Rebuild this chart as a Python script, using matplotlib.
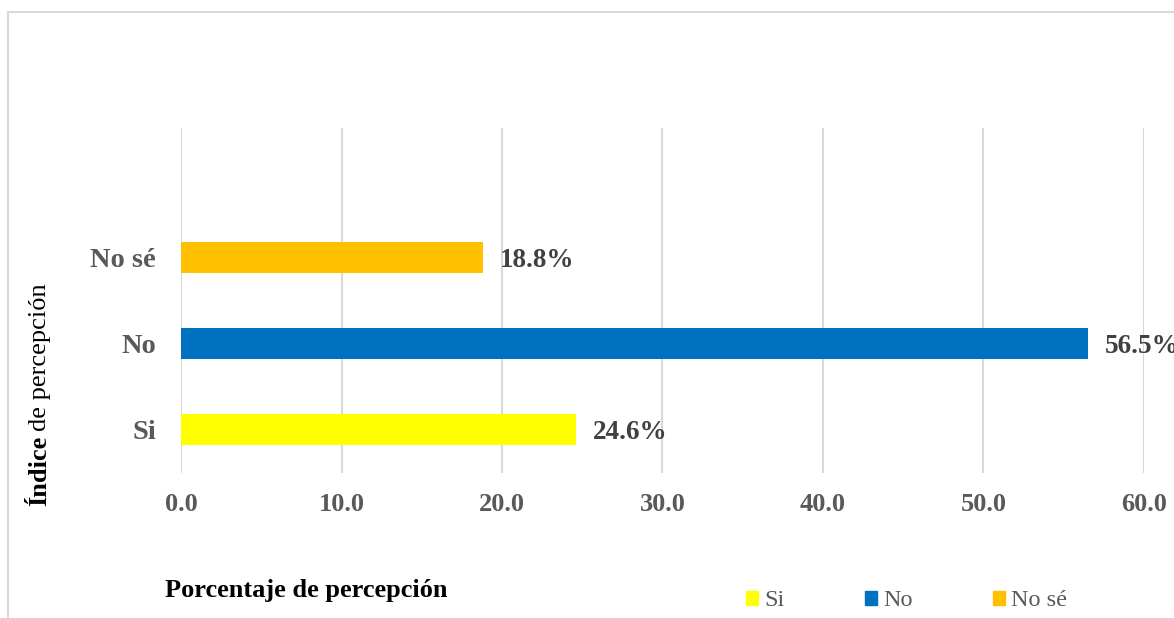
import matplotlib.pyplot as plt
from matplotlib.patches import Patch, Rectangle

CATEGORIES = ["Si", "No", "No sé"]
VALUES = [24.6, 56.5, 18.8]
COLORS = ["#FFFF00", "#0070C0", "#FFC000"]
X_TICKS = [0, 10, 20, 30, 40, 50, 60]

GRAY = "#595959"
GRID = "#D9D9D9"
SERIF = "Liberation Serif"

plt.rcParams["font.family"] = SERIF

fig = plt.figure(figsize=(11.74, 6.18), dpi=100)
ax = fig.add_axes([0.1542, 0.2346, 0.8202, 0.5583])

# outer chart border (cut off at right/bottom in the reference)
fig.patches.append(Rectangle((8 / 1174, -0.1), 1.2, 1 - 12 / 618 + 0.1,
                             transform=fig.transFigure, fill=False,
                             edgecolor=GRID, linewidth=1.5))

ypos = list(range(len(CATEGORIES)))
ax.barh(ypos, VALUES, height=0.36, color=COLORS, zorder=3)

for y, v in zip(ypos, VALUES):
    ax.annotate(f"{v:.1f}%", (v, y), xytext=(12, -2), textcoords="offset points",
                ha="left", va="center", fontsize=19.5, fontweight="bold",
                color="#404040", annotation_clip=False)

ax.set_xlim(0, 60)
ax.set_ylim(-0.5, 3.5)
ax.set_xticks(X_TICKS)
ax.set_xticklabels([f"{t:.1f}" for t in X_TICKS])
ax.set_yticks(ypos)
ax.set_yticklabels(CATEGORIES)
ax.tick_params(axis="x", length=0, pad=14.5, labelsize=19, labelcolor=GRAY)
ax.tick_params(axis="y", length=0, pad=18, labelsize=20.5, labelcolor=GRAY)
for lab in ax.get_xticklabels() + ax.get_yticklabels():
    lab.set_fontweight("bold")
ax.xaxis.grid(True, color=GRID, linewidth=1.5, zorder=0)
for s in ax.spines.values():
    s.set_visible(False)

# y label: bold "Índice" + normal "de percepción"
fig.canvas.draw()
r = fig.canvas.get_renderer()
t1 = fig.text(40 / 1174, 1 - 506 / 618, "Índice", rotation=90, ha="center",
              va="bottom", fontsize=19, fontweight="bold", color="black")
bb = t1.get_window_extent(r)
fig.text(40 / 1174, (bb.y1 + 5) / fig.bbox.height, "de percepción", rotation=90,
         ha="center", va="bottom", fontsize=19, color="black")

fig.text(165 / 1174, 1 - 590 / 618, "Porcentaje de percepción", ha="left",
         va="center", fontsize=19, fontweight="bold", color="black")

handles = [Patch(color=c) for c in COLORS]
fig.legend(handles, CATEGORIES, ncol=3, loc="center left",
           bbox_to_anchor=(724 / 1174, 1 - 601 / 618), frameon=False,
           fontsize=17.5, handlelength=0.5, handleheight=0.5,
           handletextpad=0.25, columnspacing=3.3, labelcolor=GRAY)

fig.savefig("out.png", dpi=100, facecolor="white")
